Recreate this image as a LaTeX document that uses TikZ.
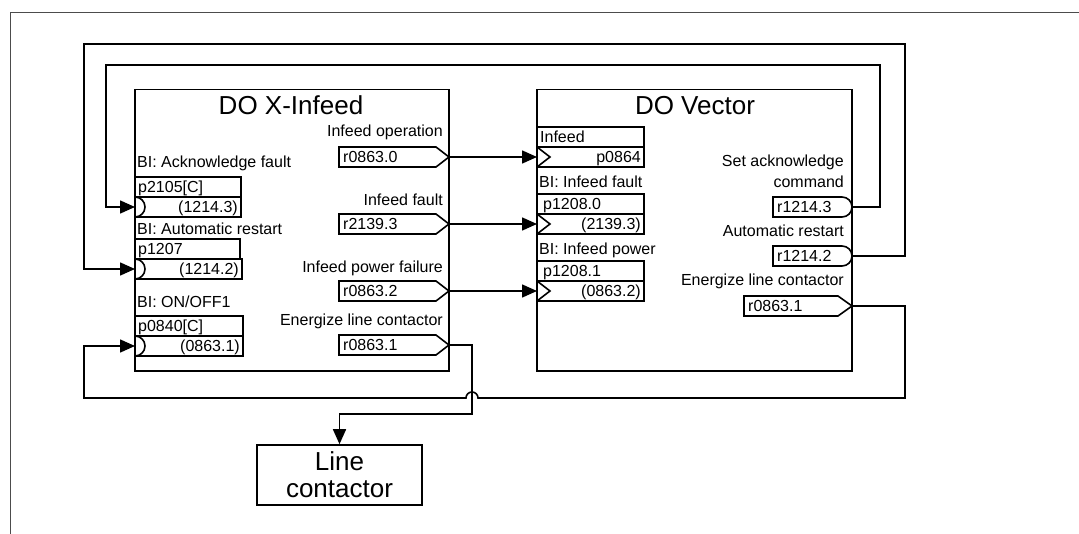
\documentclass[tikz,border=0pt]{standalone}
\usepackage{fontspec}
\setmainfont{Liberation Sans}
\usetikzlibrary{arrows.meta}
\newcommand\lblfont{\fontsize{16}{19}\selectfont}
\newcommand\bigfont{\fontsize{26}{28}\selectfont}
\tikzset{
  bx/.style={draw, line width=1.6pt},
  wire/.style={line width=1.6pt},
  arr/.style={wire, -{Triangle[length=15pt,width=13pt]}},
  lbl/.style={inner sep=0pt, font=\lblfont},
  ttl/.style={inner sep=0pt, font=\bigfont},
  frame/.style={draw=black!70, line width=1pt},
}
\begin{document}
\begin{tikzpicture}[x=1pt,y=-1pt]
\useasboundingbox (0,0) rectangle (1079,534);
% page frame
\draw[frame] (10,534) -- (10,12.5) -- (1079,12.5);

% main blocks
\draw[bx] (135,89.5) rectangle (449,371);
\draw[bx] (537,89.5) rectangle (852,371);
\node[ttl,anchor=base] (tX) at (291,115) {DO X-Infeed};
\node[ttl,anchor=base] (tV) at (695,115) {DO Vector};

% ---------- X-Infeed inputs ----------
\node[lbl,anchor=base west] (lAck) at (137,168) {BI: Acknowledge fault};
\draw[bx] (135,177) rectangle (241,197);
\draw[bx] (135,197) rectangle (241,217);
\draw[wire] (135,197) arc[start angle=-90,end angle=90,radius=10];
\node[lbl,anchor=base west] (pAck) at (138,193) {p2105[C]};
\node[lbl,anchor=base east] (vAck) at (238,213) {(1214.3)};
\coordinate (iAck) at (135,207);

\node[lbl,anchor=base west] (lAut) at (137,235) {BI: Automatic restart};
\draw[bx] (135,239) rectangle (240,259);
\draw[bx] (135,259) rectangle (242,279);
\draw[wire] (135,259) arc[start angle=-90,end angle=90,radius=10];
\node[lbl,anchor=base west] (pAut) at (138,255) {p1207};
\node[lbl,anchor=base east] (vAut) at (239,275) {(1214.2)};
\coordinate (iAut) at (135,269);

\node[lbl,anchor=base west] (lOn) at (137,308) {BI: ON/OFF1};
\draw[bx] (135,316) rectangle (243,336);
\draw[bx] (135,336) rectangle (243,356);
\draw[wire] (135,336) arc[start angle=-90,end angle=90,radius=10];
\node[lbl,anchor=base west] (pOn) at (138,332) {p0840[C]};
\node[lbl,anchor=base east] (vOn) at (240,352) {(0863.1)};
\coordinate (iOn) at (135,346);

% ---------- X-Infeed outputs ----------
\node[lbl,anchor=base east] (lOp) at (443,137) {Infeed operation};
\draw[bx] (339,147) -- (436,147) -- (449,157) -- (436,167) -- (339,167) -- cycle;
\node[lbl,anchor=base west] (rOp) at (343,163) {r0863.0};
\coordinate (oOp) at (449,157);

\node[lbl,anchor=base east] (lFlt) at (443,206) {Infeed fault};
\draw[bx] (339,214) -- (436,214) -- (449,224) -- (436,234) -- (339,234) -- cycle;
\node[lbl,anchor=base west] (rFlt) at (343,230) {r2139.3};
\coordinate (oFlt) at (449,224);

\node[lbl,anchor=base east] (lPf) at (443,273) {Infeed power failure};
\draw[bx] (339,281) -- (436,281) -- (449,291) -- (436,301) -- (339,301) -- cycle;
\node[lbl,anchor=base west] (rPf) at (343,297) {r0863.2};
\coordinate (oPf) at (449,291);

\node[lbl,anchor=base east] (lLc) at (443,326) {Energize line contactor};
\draw[bx] (339,335) -- (436,335) -- (449,345) -- (436,355) -- (339,355) -- cycle;
\node[lbl,anchor=base west] (rLc) at (343,351) {r0863.1};
\coordinate (oLc) at (449,345);

% ---------- DO Vector inputs ----------
\draw[bx] (537,127) rectangle (644,147);
\draw[bx] (537,147) rectangle (644,167);
\draw[wire] (537,147) -- (550,157) -- (537,167);
\node[lbl,anchor=base west] (pInf) at (540,143) {Infeed};
\node[lbl,anchor=base east] (vInf) at (641,163) {p0864};
\coordinate (iInf) at (537,157);

\node[lbl,anchor=base west] (lIf) at (539,188) {BI: Infeed fault};
\draw[bx] (537,194) rectangle (644,214);
\draw[bx] (537,214) rectangle (644,234);
\draw[wire] (537,214) -- (550,224) -- (537,234);
\node[lbl,anchor=base west] (pIf) at (543,210) {p1208.0};
\node[lbl,anchor=base east] (vIf) at (641,230) {(2139.3)};
\coordinate (iIf) at (537,224);

\node[lbl,anchor=base west] (lIp) at (539,255) {BI: Infeed power};
\draw[bx] (537,261) rectangle (644,281);
\draw[bx] (537,281) rectangle (644,301);
\draw[wire] (537,281) -- (550,291) -- (537,301);
\node[lbl,anchor=base west] (pIp) at (543,277) {p1208.1};
\node[lbl,anchor=base east] (vIp) at (641,297) {(0863.2)};
\coordinate (iIp) at (537,291);

% ---------- DO Vector outputs ----------
\node[lbl,anchor=base east] (lSa1) at (844,167) {Set acknowledge};
\node[lbl,anchor=base east] (lSa2) at (844,188) {command};
\draw[bx] (773,197) -- (842,197) arc[start angle=-90,end angle=90,radius=10] -- (773,217) -- cycle;
\node[lbl,anchor=base west] (rSa) at (777,213) {r1214.3};
\coordinate (oSa) at (852,207);

\node[lbl,anchor=base east] (lAr) at (844,237) {Automatic restart};
\draw[bx] (773,246) -- (842,246) arc[start angle=-90,end angle=90,radius=10] -- (773,266) -- cycle;
\node[lbl,anchor=base west] (rAr) at (777,262) {r1214.2};
\coordinate (oAr) at (852,256);

\node[lbl,anchor=base east] (lVl) at (844,286) {Energize line contactor};
\draw[bx] (744,296) -- (838,296) -- (852,306) -- (838,316) -- (744,316) -- cycle;
\node[lbl,anchor=base west] (rVl) at (748,312) {r0863.1};
\coordinate (oVl) at (852,306);

% ---------- Line contactor ----------
\node[bx, ttl, minimum width=165pt, minimum height=60pt, align=center] (lc) at (339.5,475)
  {Line\\[-1pt]contactor};

% ---------- connectors ----------
\draw[arr] (oOp) -- (iInf);
\draw[arr] (oFlt) -- (iIf);
\draw[arr] (oPf) -- (iIp);
\draw[arr] (oLc) -- (472,345) -- (472,414) -- (339.5,414) -- (lc.north);
\draw[arr] (oSa) -- (880,207) -- (880,65) -- (106,65) -- (106,207) -- (iAck);
\draw[arr] (oAr) -- (905,256) -- (905,44) -- (84,44) -- (84,269) -- (iAut);
\draw[arr] (oVl) -- (905,306) -- (905,398) -- (478,398)
  arc[start angle=0,end angle=-180,radius=6] -- (84,398) -- (84,346) -- (iOn);
\end{tikzpicture}
\end{document}
